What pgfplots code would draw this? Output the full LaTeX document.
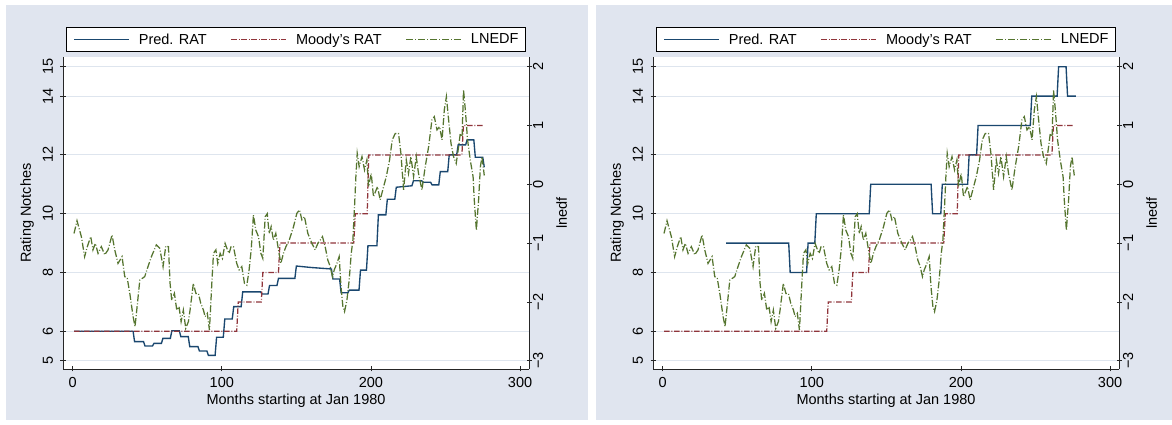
\documentclass[border=0pt]{standalone}
\usepackage{fontspec}
\setmainfont{Liberation Sans}
\usepackage{pgfplots}
\usepackage{pgfplotstable}
\pgfplotsset{compat=1.18}
\definecolor{stnavy}{RGB}{26,71,111}
\definecolor{stmaroon}{RGB}{144,53,59}
\definecolor{stgreen}{RGB}{85,117,47}
\definecolor{bgblue}{RGB}{224,229,239}
\definecolor{gridblue}{RGB}{222,229,238}

% Moody's RAT (both panels)
\pgfplotstableread{
m r
1 6
110 6
111 7
126.5 7
127.5 8
138 8
139 9
188.5 9
189.5 10
197.5 10
198.5 12
261 12
262 13
276 13
}\moody

% Predicted rating, left panel
\pgfplotstableread{
m r
1 6
40.5 6
41.5 5.65
47.5 5.65
48.5 5.50
53.5 5.50
54.5 5.59
59.5 5.59
60.5 5.76
65.5 5.76
66.5 6.02
71.5 6.02
72.5 5.82
77.5 5.82
78.5 5.48
84 5.48
85 5.33
90 5.33
91 5.18
95.5 5.18
96.5 5.80
101 5.80
102 6.42
107 6.42
108 6.84
113 6.84
114 7.34
126 7.34
127 7.27
131 7.27
132 7.56
137 7.56
138 7.80
149 7.80
150 8.22
160 8.17
173.5 8.12
174.5 7.78
179 7.78
180 7.31
184.5 7.31
185.5 7.40
192 7.40
193 8.08
197 8.08
198 8.91
204 8.91
205 9.96
210 9.96
211 10.49
216 10.49
217 10.90
227.5 10.95
228.5 11.12
234 11.12
235 11.07
240 11.07
241 10.98
245.5 10.98
246.5 11.43
251.5 11.43
252.5 12.0
257.5 12.0
258.5 12.34
263.5 12.34
264.5 12.51
269 12.51
270 11.92
275 11.92
276 11.58
}\predA

% Predicted rating, right panel
\pgfplotstableread{
m r
42.5 9
84.5 9
85.5 8
96.5 8
97.5 9
102 9
103 10
138.5 10
139.5 11
180 11
181 10
186.5 10
187.5 11
204.5 11
205.5 12
210.5 12
211.5 13
246.5 13
247.5 14
264.5 14
265.5 15
270.5 15
271.5 14
277 14
}\predB

% LNEDF (both panels)
\pgfplotstableread{
m l
0.9 -0.835
2.9 -0.62
5.8 -0.89
8.0 -1.23
9.8 -1.06
12.1 -0.89
13.6 -1.115
15.2 -1.005
17.0 -1.175
19.2 -1.06
21.5 -1.20
23.7 -1.115
26.4 -0.86
28.2 -1.115
30.4 -1.345
33.1 -1.23
34.9 -1.57
36.6 -1.60
38.3 -1.855
40.5 -2.25
41.8 -2.42
43.2 -2.08
45.0 -1.63
48.3 -1.57
50.5 -1.40
52.8 -1.23
56.1 -1.03
58.4 -1.09
60.6 -1.40
62.4 -1.05
64.2 -1.06
65.3 -1.685
66.4 -1.97
68.2 -1.855
69.8 -2.14
71.3 -2.08
72.7 -2.335
74.2 -2.14
75.8 -2.45
77.6 -2.335
78.7 -2.14
80.9 -1.685
82.6 -1.855
84.3 -1.855
85.9 -2.025
87.7 -2.14
88.8 -2.25
90.3 -2.195
91.7 -2.48
93.3 -1.685
94.4 -1.175
96.0 -1.115
97.3 -1.345
98.9 -1.175
100.4 -1.26
102.2 -1.005
103.8 -1.115
104.9 -1.175
106.2 -1.06
107.8 -1.06
110.0 -1.345
111.6 -1.455
113.4 -1.40
115.2 -1.685
116.8 -1.715
118.3 -1.455
119.7 -1.115
121.2 -0.52
122.8 -0.78
124.6 -0.89
126.2 -1.175
127.5 -1.26
129.1 -0.55
130.5 -0.50
131.7 -0.835
133.1 -0.72
134.6 -0.95
136.2 -0.835
138.0 -1.115
139.6 -1.345
141.3 -1.175
143.0 -1.06
145.2 -0.95
148.1 -0.72
150.3 -0.495
152.1 -0.435
153.7 -0.605
155.4 -0.55
157.7 -0.835
160.4 -1.005
162.6 -1.115
164.4 -1.005
166.0 -0.95
167.5 -0.89
169.3 -1.06
171.1 -1.29
172.7 -1.40
174.2 -1.57
175.4 -1.455
177.2 -1.345
178.7 -1.23
179.9 -1.74
181.2 -2.08
182.3 -2.165
183.9 -1.97
185.4 -1.63
186.8 -1.175
187.9 -0.95
189.0 -0.38
189.9 0.13
190.8 0.525
192.1 0.30
194.0 0.47
195.7 0.245
197.3 0.415
198.4 -0.04
200.2 0.185
201.7 -0.21
204.4 -0.04
206.2 -0.265
208.5 -0.04
210.3 0.13
212.5 0.415
214.3 0.755
216.3 0.865
218.5 0.865
220.1 0.525
221.9 -0.095
223.7 0.415
225.2 0.185
226.8 0.47
228.6 0.13
230.4 0.47
231.9 0.185
234.2 -0.095
236.4 0.30
238.7 0.64
240.9 1.095
242.5 1.15
244.3 0.925
246.0 0.98
247.7 0.755
249.2 1.265
250.6 1.49
252.1 1.095
253.7 0.695
255.4 0.47
257.2 0.355
258.8 0.64
259.9 0.865
261.1 0.81
262.1 1.605
263.3 1.265
264.8 0.755
266.6 0.415
268.5 0.13
269.3 -0.265
270.7 -0.78
272.2 -0.265
273.4 0.30
274.5 0.47
276.0 0.15
}\lnedf

\newcommand{\fs}{\fontsize{14.5}{17}\selectfont}
\tikzset{axl/.style={line width=0.9pt, color=black!85}}

\pgfplotsset{
  panel/.style={
    scale only axis, width=466pt, height=312pt,
    xmin=-6.5, xmax=306,
    /pgf/number format/assume math mode=true,
    tick align=outside, major tick length=5pt,
    axis line style={draw=none},
    tick style={line width=0.8pt, color=black!85},
    tick label style={font=\fs},
    label style={font=\fs},
    clip=false,
  },
  leftax/.style={
    panel,
    ymin=4.718, ymax=15.33,
    axis x line=bottom, axis y line=left,
    xtick={0,100,200,300},
    ytick={5,6,8,10,12,14,15},
    ymajorgrids, grid style={gridblue, line width=1.1pt},
    yticklabel style={rotate=90, anchor=south},
    yticklabel shift=4pt,
    xticklabel shift=2pt,
    xlabel={Months starting at Jan 1980},
    ylabel={Rating Notches},
    ylabel style={font=\fs, yshift=2pt},
    legend style={at={(0.5,1)}, anchor=south, yshift=5pt,
      draw=black, line width=0.8pt, fill=white, font=\fs,
      inner xsep=7pt, inner ysep=6pt,
      nodes={inner sep=0pt},
      /tikz/every even column/.append style={column sep=24pt},
      /tikz/every odd column/.append style={column sep=9pt}},
    legend columns=3,
    legend image code/.code={\draw[##1] (0pt,0pt) -- (55pt,0pt);},
  },
  rightax/.style={
    panel,
    ymin=-3.141, ymax=2.165,
    axis x line=none, axis y line=right,
    ytick={-3,-2,-1,0,1,2},
    yticklabels={−3,−2,−1,0,1,2},
    yticklabel style={rotate=90, anchor=north},
    yticklabel shift=-2pt,
    ylabel={lnedf},
    ylabel style={font=\fs, at={(axis description cs:1,0.5)}, anchor=center, yshift=-32.7pt},
  },
  predsty/.style={stnavy, line width=1.35pt, solid},
  moodysty/.style={stmaroon, line width=1.25pt, dash pattern=on 5.5pt off 1.8pt on 0.9pt off 1.8pt},
  lnsty/.style={stgreen, line width=1.25pt, dash pattern=on 7pt off 2pt on 0.9pt off 2pt},
}

\begin{document}
\begin{tikzpicture}[x=1pt,y=1pt]
\path[use as bounding box] (0,0) rectangle (1172,425);
\fill[bgblue] (6,5) rectangle (588,420);
\fill[bgblue] (596,5) rectangle (1172,420);
\fill[white] (63,56) rectangle (529,368);
\fill[white] (653,56) rectangle (1119,368);

% ---------- left panel ----------
\begin{axis}[leftax, at={(63pt,56pt)}, anchor=south west]
\addplot[predsty] table[x=m,y=r] {\predA};
\addplot[moodysty] table[x=m,y=r] {\moody};
\addlegendimage{lnsty}
\legend{Pred. RAT, Moody's RAT, LNEDF}
\draw[axl] (rel axis cs:0,1) -- (rel axis cs:0,0) -- (rel axis cs:1,0);
\end{axis}
\begin{axis}[rightax, at={(63pt,56pt)}, anchor=south west]
\addplot[lnsty] table[x=m,y=l] {\lnedf};
\draw[axl] (rel axis cs:1,0) -- (rel axis cs:1,1);
\end{axis}

% ---------- right panel ----------
\begin{axis}[leftax, at={(653pt,56pt)}, anchor=south west]
\addplot[predsty] table[x=m,y=r] {\predB};
\addplot[moodysty] table[x=m,y=r] {\moody};
\addlegendimage{lnsty}
\legend{Pred. RAT, Moody's RAT, LNEDF}
\draw[axl] (rel axis cs:0,1) -- (rel axis cs:0,0) -- (rel axis cs:1,0);
\end{axis}
\begin{axis}[rightax, at={(653pt,56pt)}, anchor=south west]
\addplot[lnsty] table[x=m,y=l] {\lnedf};
\draw[axl] (rel axis cs:1,0) -- (rel axis cs:1,1);
\end{axis}
\end{tikzpicture}
\end{document}
